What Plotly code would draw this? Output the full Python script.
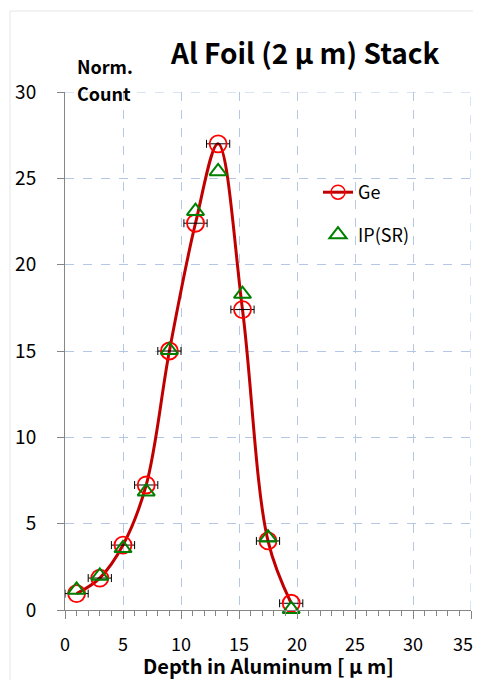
import plotly.graph_objects as go

# Data
ge_x = [1.0, 3.0, 5.0, 7.0, 9.0, 11.25, 13.2, 15.3, 17.5, 19.5]
ge_y = [0.95, 1.85, 3.76, 7.24, 15.0, 22.4, 27.0, 17.4, 4.0, 0.39]
ge_xerr = [1.0] * 10
ip_x = [1.0, 3.0, 5.0, 7.0, 9.0, 11.25, 13.2, 15.3, 17.5, 19.5]
ip_y = [1.16, 1.97, 3.57, 6.85, 15.05, 23.1, 25.4, 18.3, 4.19, 0.05]
x_range = [0, 35]
y_range = [0, 30]
x_tickvals = [0, 5, 10, 15, 20, 25, 30, 35]
# last label padded so it stays inside the page edge
x_ticktext = ["0", "5", "10", "15", "20", "25", "30", "35\u00a0\u00a0\u00a0\u00a0"]
x_title = "Depth in Aluminum [ μ m]"

FONT = "Noto Sans CJK JP"
OFF = 8  # page body margin
# target plot area in page pixels
PL, PR, PT, PB = 65, 471, 92, 610
W, H = 481 - OFF, 680 - OFF
L, T = PL - OFF, PT - OFF
R, B = W - (PR - OFF), H - (PB - OFF)
pw, ph = PR - PL, PB - PT


def px(xp):
    return (xp - PL) / pw


def py(yp):
    return 1 - (yp - PT) / ph


GRID = "#B4C7E7"

fig = go.Figure()

fig.add_trace(go.Scatter(
    x=ge_x, y=ge_y, mode="lines", line=dict(color="#C00000", width=3, shape="spline", smoothing=1.0),
    showlegend=False, hoverinfo="skip", cliponaxis=False,
))
fig.add_trace(go.Scatter(
    x=ge_x, y=ge_y, mode="markers", name="Ge", showlegend=False,
    marker=dict(symbol="circle-open", size=17, color="#FF0000", line=dict(width=1.8, color="#FF0000")),
    error_x=dict(type="data", array=ge_xerr, color="black", thickness=1, width=4),
    legendgroup="g1", cliponaxis=False,
))
fig.add_trace(go.Scatter(
    x=[None], y=[None], mode="lines+markers", name="Ge",
    line=dict(color="#C00000", width=3),
    marker=dict(symbol="circle-open", size=14, color="#FF0000", line=dict(width=1.5, color="#FF0000")),
    legendgroup="g1",
))
fig.add_trace(go.Scatter(
    x=ip_x, y=ip_y, mode="markers", name="IP(SR)",
    marker=dict(symbol="triangle-up-open", size=15, color="#008000", line=dict(width=2, color="#008000")),
    legendgroup="g2", cliponaxis=False,
))

fig.update_layout(
    width=W, height=H,
    margin=dict(l=L, r=R, t=T, b=B),
    paper_bgcolor="white", plot_bgcolor="white",
    font=dict(family=FONT, size=17, color="black"),
    showlegend=True,
    legend=dict(x=px(318), y=py(174), xanchor="left", yanchor="top",
                bgcolor="rgba(0,0,0,0)", font=dict(size=18, family=FONT),
                traceorder="grouped", tracegroupgap=16, itemwidth=30),
    xaxis=dict(
        range=x_range, tickmode="array", tickvals=x_tickvals, ticktext=x_ticktext,
        showline=True, linecolor="#868686", linewidth=1,
        ticks="outside", ticklen=8, tickcolor="#868686", tickwidth=1,
        minor=dict(dtick=1, tick0=0, ticks="outside", ticklen=5, tickcolor="#868686", showgrid=False),
        showgrid=True, gridcolor=GRID, griddash="dash", gridwidth=1, zeroline=False,
        tickfont=dict(size=18, family=FONT), automargin=False, ticklabelstandoff=10,
        ticklabeloverflow="allow",
    ),
    yaxis=dict(
        range=y_range, dtick=5, tick0=0, showline=True, linecolor="#868686", linewidth=1,
        ticks="outside", ticklen=7, tickcolor="#868686", tickwidth=1,
        showgrid=True, gridcolor=GRID, griddash="dash", gridwidth=1, zeroline=False,
        tickfont=dict(size=19, family=FONT), ticklabelstandoff=17, automargin=False,
    ),
    annotations=[
        dict(text="<b>Al Foil (2 μ m) Stack</b>", x=px(305), y=py(52), xref="paper", yref="paper",
             xanchor="center", yanchor="middle", showarrow=False, font=dict(size=28, family=FONT)),
        dict(text="<b>Norm.</b>", x=px(75), y=py(66), xref="paper", yref="paper",
             xanchor="left", yanchor="middle", showarrow=False, font=dict(size=18, family=FONT)),
        dict(text="<b>Count</b>", x=px(75), y=py(93), xref="paper", yref="paper",
             xanchor="left", yanchor="middle", showarrow=False, font=dict(size=18, family=FONT)),
        dict(text="<b>" + x_title + "</b>", x=px(268), y=py(665), xref="paper", yref="paper",
             xanchor="center", yanchor="middle", showarrow=False, font=dict(size=20, family=FONT)),
    ],
    shapes=[
        dict(type="rect", xref="paper", yref="paper", x0=px(10), x1=px(495), y0=py(11), y1=py(700),
             line=dict(color="#E6E6E6", width=1), layer="below"),
        dict(type="line", xref="x", yref="y", x0=x_range[1], x1=x_range[1], y0=y_range[0], y1=y_range[1],
             line=dict(color=GRID, width=1, dash="dash"), layer="below"),
        dict(type="line", xref="x", yref="y", x0=x_range[0], x1=x_range[1], y0=y_range[1], y1=y_range[1],
             line=dict(color=GRID, width=1, dash="dash"), layer="below"),
    ],
)

fig.write_html("out.html")
